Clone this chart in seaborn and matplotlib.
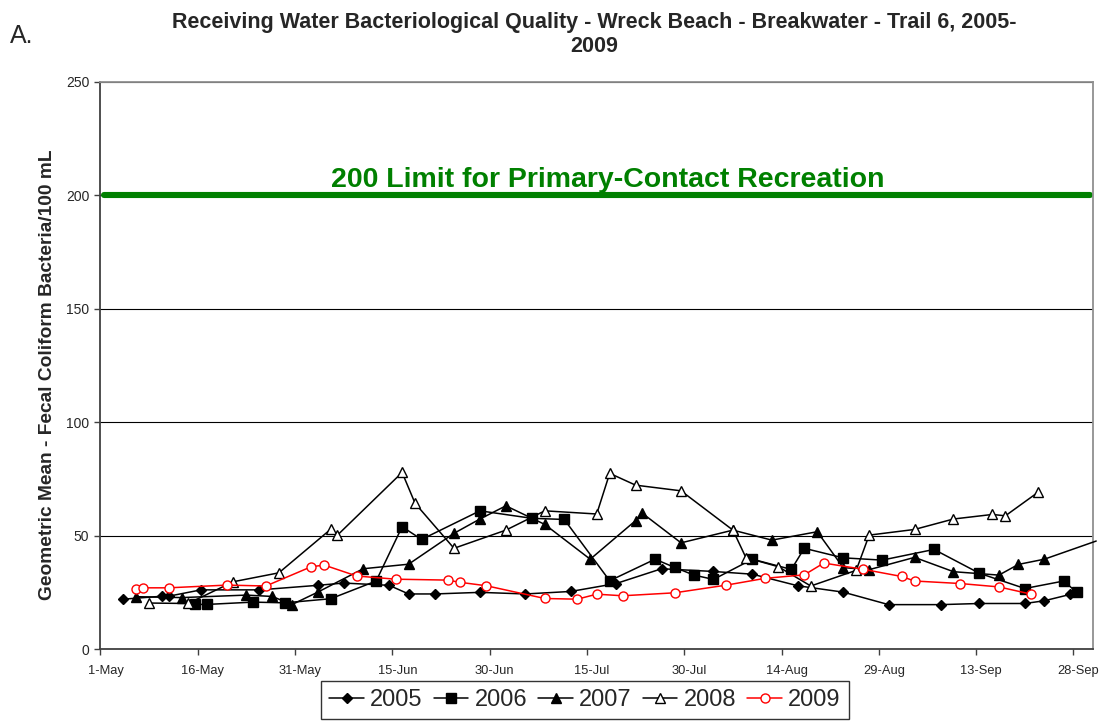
import pandas as pd
import matplotlib.pyplot as plt
import matplotlib.dates as mdates
from matplotlib.transforms import ScaledTranslation
import seaborn as sns

# -----------------------------
# Data (day-month, geometric mean fecal coliform / 100 mL)
# -----------------------------
dates_2005 = ["4-May", "10-May", "11-May", "16-May", "25-May", "3-Jun", "7-Jun", "14-Jun",
              "17-Jun", "21-Jun", "28-Jun", "5-Jul", "12-Jul", "19-Jul", "26-Jul", "3-Aug",
              "9-Aug", "16-Aug", "23-Aug", "30-Aug", "7-Sep", "13-Sep", "20-Sep", "23-Sep", "27-Sep"]
vals_2005 = [22.1, 23.4, 23.4, 26.2, 26.2, 28.2, 29.2, 28.2, 24.4, 24.4, 25.1, 24.4, 25.5,
             29.0, 35.5, 34.3, 33.1, 28.0, 25.2, 19.7, 19.7, 20.2, 20.2, 21.4, 24.2]

dates_2006 = ["15-May", "17-May", "24-May", "29-May", "5-Jun", "12-Jun", "16-Jun", "19-Jun",
              "28-Jun", "6-Jul", "11-Jul", "18-Jul", "25-Jul", "28-Jul", "31-Jul", "3-Aug",
              "9-Aug", "15-Aug", "17-Aug", "23-Aug", "29-Aug", "6-Sep", "13-Sep", "20-Sep",
              "26-Sep", "28-Sep"]
vals_2006 = [19.8, 19.8, 20.8, 20.5, 22.3, 30.1, 54.0, 48.4, 61.0, 57.7, 57.2, 30.2, 39.7,
             36.1, 32.7, 30.8, 39.7, 35.2, 44.5, 40.3, 39.3, 44.0, 33.5, 26.8, 30.1, 25.1]

dates_2007 = ["6-May", "13-May", "23-May", "27-May", "30-May", "3-Jun", "10-Jun", "17-Jun",
              "24-Jun", "28-Jun", "2-Jul", "8-Jul", "15-Jul", "22-Jul", "23-Jul", "29-Jul",
              "6-Aug", "12-Aug", "19-Aug", "23-Aug", "27-Aug", "3-Sep", "9-Sep", "16-Sep",
              "19-Sep", "23-Sep", "1-Oct"]
vals_2007 = [23.2, 22.8, 23.9, 23.3, 19.7, 25.2, 35.5, 37.5, 51.1, 57.4, 63.2, 55.0, 39.7,
             56.7, 60.0, 46.9, 52.5, 48.1, 51.8, 36.0, 35.1, 40.5, 34.2, 32.7, 37.4, 39.7, 47.7]

dates_2008 = ["8-May", "14-May", "21-May", "28-May", "5-Jun", "6-Jun", "16-Jun", "18-Jun",
              "24-Jun", "2-Jul", "8-Jul", "16-Jul", "18-Jul", "22-Jul", "29-Jul", "6-Aug",
              "8-Aug", "13-Aug", "18-Aug", "25-Aug", "27-Aug", "3-Sep", "9-Sep", "15-Sep",
              "17-Sep", "22-Sep"]
vals_2008 = [20.4, 20.2, 29.8, 33.7, 52.9, 50.2, 77.9, 64.3, 44.5, 52.5, 61.0, 59.6, 77.5,
             72.3, 69.8, 52.5, 40.4, 36.4, 27.9, 34.8, 50.3, 52.8, 57.4, 59.4, 58.8, 69.1]

dates_2009 = ["6-May", "7-May", "11-May", "20-May", "26-May", "2-Jun", "4-Jun", "9-Jun",
              "15-Jun", "23-Jun", "25-Jun", "29-Jun", "8-Jul", "13-Jul", "16-Jul", "20-Jul",
              "28-Jul", "5-Aug", "11-Aug", "17-Aug", "20-Aug", "26-Aug", "1-Sep", "3-Sep",
              "10-Sep", "16-Sep", "21-Sep"]
vals_2009 = [26.4, 27.1, 27.1, 28.3, 27.9, 36.4, 37.1, 32.3, 30.9, 30.5, 29.5, 28.0, 22.4,
             22.1, 24.3, 23.6, 24.9, 28.3, 31.3, 32.8, 38.0, 35.3, 32.1, 30.1, 29.0, 27.5, 24.3]

limit_dates = ["1-May", "30-Sep"]
limit_vals = [200, 200]

series_names = ["2005", "2006", "2007", "2008", "2009"]


def to_dates(days):
    # all seasons on one common axis; Excel puts points mid-day
    return pd.to_datetime([d + "-2009" for d in days], format="%d-%b-%Y") + pd.Timedelta(hours=12)


# -----------------------------
# Figure
# -----------------------------
sns.set_style("white")
plt.rcParams["font.family"] = ["Liberation Sans", "DejaVu Sans"]

fig = plt.figure(figsize=(11.04, 7.28), dpi=100)
ax = fig.add_axes([0.091, 0.108, 0.899, 0.780])

styles = {
    "2005": dict(marker="D", markersize=5, markerfacecolor="black", markeredgecolor="black", color="black"),
    "2006": dict(marker="s", markersize=6.5, markerfacecolor="black", markeredgecolor="black", color="black"),
    "2007": dict(marker="^", markersize=7.5, markerfacecolor="black", markeredgecolor="black", color="black"),
    "2008": dict(marker="^", markersize=7.5, markerfacecolor="white", markeredgecolor="black", color="black"),
    "2009": dict(marker="o", markersize=6.5, markerfacecolor="white", markeredgecolor="red", color="red"),
}
all_dates = [dates_2005, dates_2006, dates_2007, dates_2008, dates_2009]
all_vals = [vals_2005, vals_2006, vals_2007, vals_2008, vals_2009]

# 200 limit line
sns.lineplot(x=to_dates(limit_dates), y=limit_vals, ax=ax, color="#008000",
             linewidth=4.4, zorder=2)

for name, d, v in zip(series_names, all_dates, all_vals):
    extra = {}
    if name == "2007":
        # last sample falls past the axis end: line only, no marker
        extra["markevery"] = list(range(len(v) - 1))
    sns.lineplot(x=to_dates(d), y=v, ax=ax, linewidth=1.1, markeredgewidth=1.0,
                 label=name, clip_on=False, zorder=3, **styles[name], **extra)

# axes
ax.set_ylim(0, 250)
ax.set_yticks([0, 50, 100, 150, 200, 250])
ax.set_xlim(pd.Timestamp("2009-05-01"), pd.Timestamp("2009-10-01"))
ax.set_xticks(pd.date_range("2009-05-01", periods=11, freq="15D"))
ax.xaxis.set_major_formatter(mdates.DateFormatter("%-d-%b"))

ax.yaxis.grid(True, color="black", linewidth=0.8)
ax.xaxis.grid(False)
ax.set_axisbelow(True)
ax.tick_params(axis="both", which="major", length=4, width=1,
               direction="out", color="#404040", pad=4, bottom=True, left=True)
ax.tick_params(axis="x", labelsize=9.3, pad=7)
ax.tick_params(axis="y", labelsize=10)
for lbl in ax.get_xticklabels():
    lbl.set_transform(lbl.get_transform() + ScaledTranslation(5 / 100, 0, fig.dpi_scale_trans))

for side in ["left", "bottom"]:
    ax.spines[side].set_color("#404040")
    ax.spines[side].set_linewidth(1.3)
for side in ["right", "top"]:
    ax.spines[side].set_color("#909090")
    ax.spines[side].set_linewidth(1.3)

ax.set_xlabel("")
ax.set_ylabel("Geometric Mean - Fecal Coliform Bacteria/100 mL", fontsize=13.8, fontweight="bold")
ax.yaxis.set_label_coords(-0.045, 0.484)

ax.text(0.511, 206.7 / 250, "200 Limit for Primary-Contact Recreation", transform=ax.transAxes,
        ha="center", va="center", color="#008000", fontsize=20.5, fontweight="bold")

fig.text(0.538, 0.983, "Receiving Water Bacteriological Quality - Wreck Beach - Breakwater - Trail 6, 2005-\n2009",
         ha="center", va="top", fontsize=15.5, fontweight="bold", linespacing=1.15)
fig.text(0.009, 0.951, "A.", ha="left", va="center", fontsize=18)

# legend below the plot
handles, labels = ax.get_legend_handles_labels()
if ax.get_legend() is not None:
    ax.get_legend().remove()
leg = fig.legend(handles, labels, loc="center", bbox_to_anchor=(0.530, 0.0385), ncol=5,
                 fontsize=17, frameon=True, fancybox=False, edgecolor="black",
                 handlelength=1.45, handletextpad=0.28, columnspacing=0.47, borderpad=0.35)
leg.get_frame().set_linewidth(1.0)

plt.savefig("out.png", dpi=100)
